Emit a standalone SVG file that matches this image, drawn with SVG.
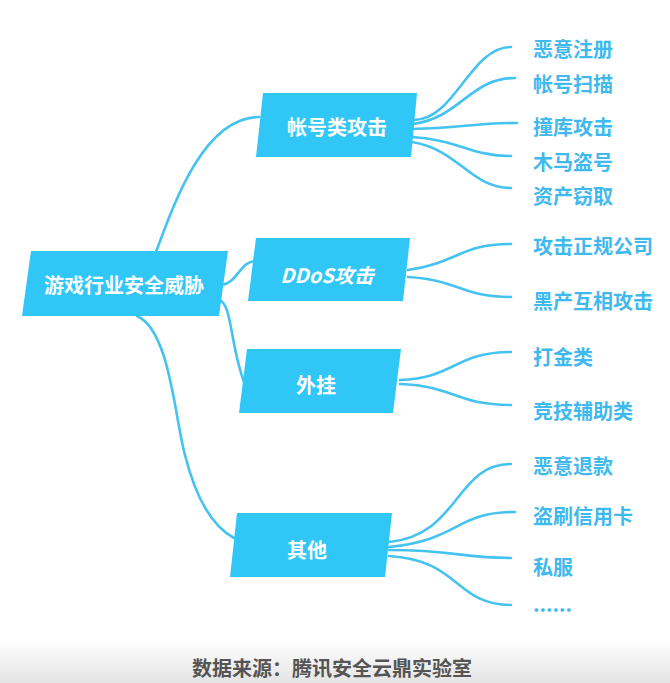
<svg xmlns="http://www.w3.org/2000/svg" width="670" height="683" viewBox="0 0 670 683">
<defs>
<linearGradient id="bottomFade" x1="0" y1="0" x2="0" y2="1">
<stop offset="0" stop-color="#ffffff"/>
<stop offset="1" stop-color="#e4e4e4"/>
</linearGradient>
<style>
.node{fill:#30c7f7}
.ntext{font-family:"Noto Sans CJK SC","Noto Sans",sans-serif;font-size:20px;font-weight:bold;fill:#ffffff;text-anchor:middle;dominant-baseline:central}
.leaf{font-family:"Noto Sans CJK SC","Noto Sans",sans-serif;font-size:20px;font-weight:bold;fill:#3fb9ee;dominant-baseline:central}
.conn path{fill:none;stroke:#45c3f0;stroke-width:2.6;stroke-linecap:round}
.cap{font-family:"Noto Sans CJK SC","Noto Sans",sans-serif;font-size:20px;font-weight:bold;fill:#555555;text-anchor:middle;dominant-baseline:central}
</style>
</defs>
<rect width="670" height="683" fill="#ffffff"/>
<rect x="0" y="640" width="670" height="43" fill="url(#bottomFade)"/>

<g id="connectors" class="conn">
<path d="M156,252 C175,200 205,117 259,117"/>
<path d="M222,285 C238,282 240,262 255,261"/>
<path d="M219,300 C232,303 230,345 244,382"/>
<path d="M137,316 C170,330 175,420 185,455 C195,495 210,525 234,538"/>
<path d="M414,120 C455,120 470,47 511,47"/>
<path d="M413,124 C460,118 470,78 515,78"/>
<path d="M412,129 C460,128 475,123 517,123"/>
<path d="M412,137 C460,140 470,156 511,156"/>
<path d="M412,142 C460,150 470,188 511,188"/>
<path d="M408,270 C460,262 460,244 511,244"/>
<path d="M408,277 C460,280 460,297 511,297"/>
<path d="M400,380 C455,378 455,352 511,352"/>
<path d="M400,384 C455,386 455,405 511,405"/>
<path d="M389,542 C460,535 455,464 511,464"/>
<path d="M389,547 C460,540 455,512 515,512"/>
<path d="M389,550 C455,550 460,558 511,558"/>
<path d="M389,556 C460,560 455,605 511,605"/>
</g>

<g id="root">
<polygon class="node" points="31,251 228,251 219,316 22,316"/>
<text class="ntext" x="124" y="284">游戏行业安全威胁</text>
</g>
<g id="account">
<polygon class="node" points="263,93 417,93 411,157 256,157"/>
<text class="ntext" x="337" y="126">帐号类攻击</text>
</g>
<g id="ddos">
<polygon class="node" points="256,238 410,238 403,301 248,301"/>
<text class="ntext" x="327" y="274" font-style="italic">DDoS攻击</text>
</g>
<g id="cheat">
<polygon class="node" points="247,349 401,349 393,413 239,413"/>
<text class="ntext" x="316" y="384">外挂</text>
</g>
<g id="other">
<polygon class="node" points="237,513 392,513 385,577 230,577"/>
<text class="ntext" x="307" y="549">其他</text>
</g>

<g id="leaf-1"><text class="leaf" x="533" y="48">恶意注册</text></g>
<g id="leaf-2"><text class="leaf" x="533" y="83">帐号扫描</text></g>
<g id="leaf-3"><text class="leaf" x="533" y="126">撞库攻击</text></g>
<g id="leaf-4"><text class="leaf" x="533" y="161">木马盗号</text></g>
<g id="leaf-5"><text class="leaf" x="533" y="195">资产窃取</text></g>
<g id="leaf-6"><text class="leaf" x="533" y="245">攻击正规公司</text></g>
<g id="leaf-7"><text class="leaf" x="533" y="300">黑产互相攻击</text></g>
<g id="leaf-8"><text class="leaf" x="533" y="356">打金类</text></g>
<g id="leaf-9"><text class="leaf" x="533" y="410">竞技辅助类</text></g>
<g id="leaf-10"><text class="leaf" x="533" y="465">恶意退款</text></g>
<g id="leaf-11"><text class="leaf" x="533" y="515">盗刷信用卡</text></g>
<g id="leaf-12"><text class="leaf" x="533" y="566">私服</text></g>
<g id="leaf-13"><text class="leaf" x="533" y="603">......</text></g>

<text class="cap" x="332" y="667">数据来源：腾讯安全云鼎实验室</text>
</svg>
